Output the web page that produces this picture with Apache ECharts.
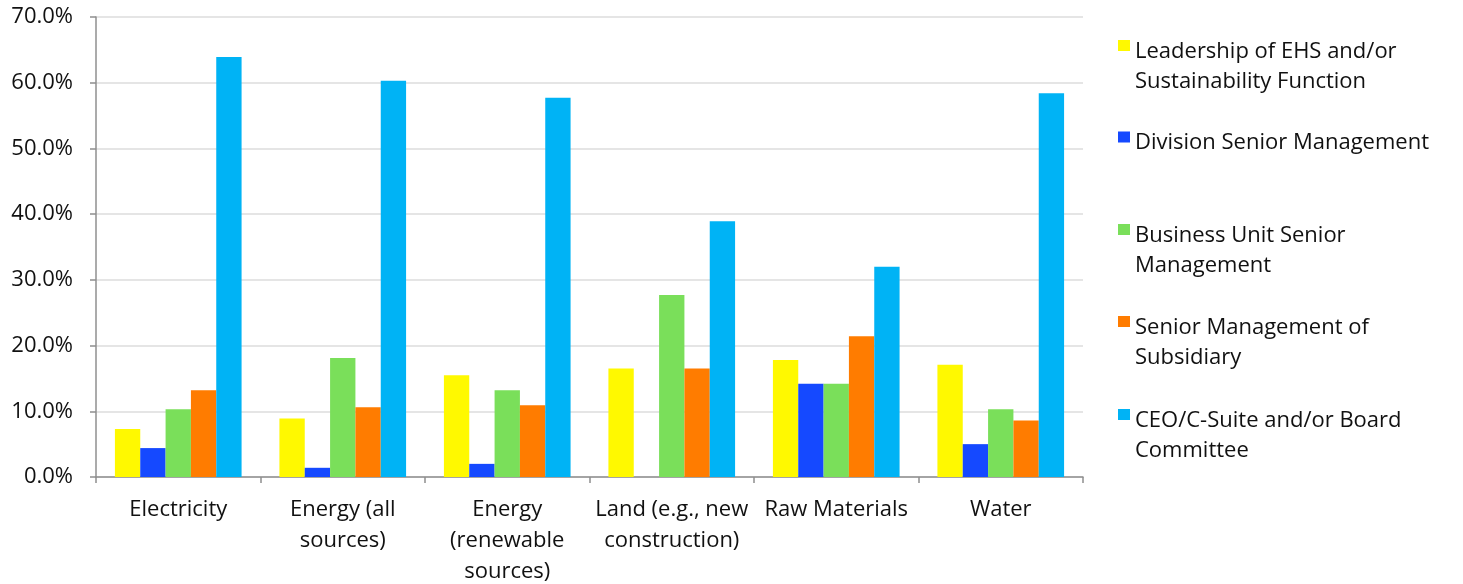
<!DOCTYPE html>
<html>
<head>
<meta charset="utf-8">
<script src="https://cdn.jsdelivr.net/npm/echarts@6/dist/echarts.min.js"></script>
<style>
  html, body { margin: 0; padding: 0; background: #ffffff; }
  #chart { width: 1463px; height: 584px; }
</style>
</head>
<body>
<div id="chart"></div>
<script>
// Resource categories (line breaks as shown under the axis)
const categories = [
  'Electricity',
  'Energy (all\nsources)',
  'Energy\n(renewable\nsources)',
  'Land (e.g., new\nconstruction)',
  'Raw Materials',
  'Water'
];

// Share of respondents (%) by responsible function
const leadershipEHS = [7.3, 8.9, 15.5, 16.5, 17.8, 17.1];
const divisionMgmt = [4.4, 1.4, 2.0, 0, 14.2, 5.0];
const businessUnitMgmt = [10.3, 18.1, 13.2, 27.7, 14.2, 10.3];
const subsidiaryMgmt = [13.2, 10.6, 10.9, 16.5, 21.4, 8.6];
const ceoBoard = [63.9, 60.3, 57.7, 38.9, 32.0, 58.4];

const seriesNames = [
  'Leadership of EHS and/or\nSustainability Function',
  'Division Senior Management',
  'Business Unit Senior\nManagement',
  'Senior Management of\nSubsidiary',
  'CEO/C-Suite and/or Board\nCommittee'
];
const seriesValues = [leadershipEHS, divisionMgmt, businessUnitMgmt, subsidiaryMgmt, ceoBoard];
const colors = ['#FFF900', '#1549FF', '#7ADF5A', '#FF7C00', '#00B3F5'];

const FONT = '"Open Sans", Lato, sans-serif';
const FONT_SIZE = 22;
const TEXT = '#111111';
const LINE_H = 30;

// Legend swatch: an 11px square pinned to the top of a taller symbol box,
// so it sits beside the first text line of a wrapped label.
function swatchIcon(boxH) {
  return 'path://M0,0H12V11H0Z M0,' + (boxH - 0.01) + 'H0.01V' + boxH + 'H0Z';
}

// One legend block per series so every entry starts on an even vertical rhythm
const legendCenters = [45.5, 137, 229.5, 321.5, 414.5];
const legends = seriesNames.map((name, i) => {
  const lines = name.split('\n').length;
  const boxH = lines === 2 ? 53 : 23;
  return {
    data: [{ name: name, icon: swatchIcon(boxH) }],
    orient: 'vertical',
    left: 1118,
    top: legendCenters[i] - 9,
    padding: 0,
    itemWidth: 12,
    itemHeight: boxH,
    itemGap: 0,
    selectedMode: false,
    textStyle: {
      fontFamily: FONT,
      fontSize: FONT_SIZE,
      color: TEXT,
      lineHeight: LINE_H
    }
  };
});

const chart = echarts.init(document.getElementById('chart'), null, { renderer: 'canvas' });
chart.setOption({
  animation: false,
  backgroundColor: '#ffffff',
  color: colors,
  legend: legends,
  grid: { left: 96, right: 380, top: 17, bottom: 107, containLabel: false, outerBoundsMode: 'none' },
  xAxis: {
    type: 'category',
    data: categories,
    axisLine: { lineStyle: { color: '#8f8f8f', width: 1.5 } },
    axisTick: { show: true, length: 6, lineStyle: { color: '#8f8f8f', width: 1.5 } },
    axisLabel: {
      interval: 0,
      margin: 17,
      fontFamily: FONT,
      fontSize: FONT_SIZE,
      color: TEXT,
      lineHeight: 31
    }
  },
  yAxis: {
    type: 'value',
    min: 0,
    max: 70,
    interval: 10,
    axisLine: { show: true, lineStyle: { color: '#8f8f8f', width: 1.5 } },
    axisTick: { show: true, length: 6, lineStyle: { color: '#8f8f8f', width: 1.5 } },
    splitLine: { show: true, lineStyle: { color: '#dcdcdc', width: 1.5 } },
    axisLabel: {
      margin: 23,
      padding: [4, 0, 0, 0],
      fontFamily: FONT,
      fontSize: FONT_SIZE,
      color: TEXT,
      formatter: v => v.toFixed(1) + '%'
    }
  },
  series: seriesNames.map((name, i) => ({
    name: name,
    type: 'bar',
    data: seriesValues[i],
    barGap: 0,
    barCategoryGap: '23%',
    itemStyle: { color: colors[i] }
  }))
});
</script>
</body>
</html>
